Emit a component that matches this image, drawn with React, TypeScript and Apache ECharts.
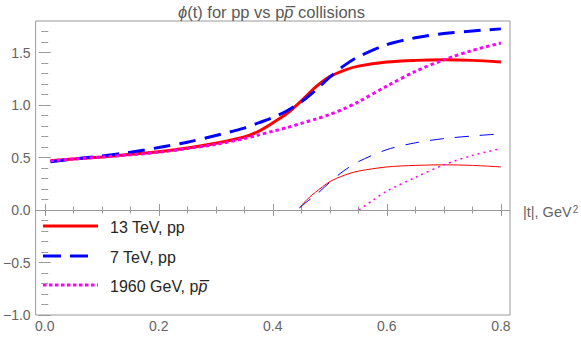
import React, { useEffect, useRef } from "react";
import * as echarts from "echarts";

// ---- data ----
const tMain = [0.01, 0.05, 0.1, 0.15, 0.2, 0.25, 0.3, 0.35, 0.375, 0.4, 0.425, 0.45, 0.475, 0.5, 0.525, 0.55, 0.6, 0.65, 0.7, 0.75, 0.8];
const red13 = [0.47, 0.485, 0.505, 0.53, 0.555, 0.59, 0.635, 0.695, 0.75, 0.83, 0.92, 1.04, 1.17, 1.27, 1.33, 1.37, 1.41, 1.425, 1.43, 1.425, 1.41];
const blue7 = [0.46, 0.485, 0.515, 0.55, 0.595, 0.645, 0.71, 0.78, 0.83, 0.88, 0.945, 1.03, 1.14, 1.265, 1.375, 1.46, 1.575, 1.64, 1.68, 1.705, 1.725];
const mag1960 = [0.47, 0.485, 0.505, 0.525, 0.55, 0.585, 0.625, 0.68, 0.715, 0.75, 0.785, 0.825, 0.865, 0.91, 0.965, 1.03, 1.18, 1.32, 1.43, 1.52, 1.59];

const tThin = [0.447, 0.46, 0.475, 0.5, 0.525, 0.55, 0.6, 0.65, 0.7, 0.75, 0.8];
const red13Thin = [0.02, 0.1, 0.17, 0.27, 0.33, 0.37, 0.41, 0.425, 0.43, 0.425, 0.41];
const blue7Thin = [0.02, 0.08, 0.14, 0.265, 0.375, 0.46, 0.575, 0.64, 0.68, 0.705, 0.725];
const tThinBar = [0.551, 0.575, 0.6, 0.65, 0.7, 0.75, 0.8];
const mag1960Thin = [0.0, 0.09, 0.18, 0.31, 0.43, 0.52, 0.585];

const xMajor = [0, 0.2, 0.4, 0.6, 0.8];
const xMinor = [0.05, 0.1, 0.15, 0.25, 0.3, 0.35, 0.45, 0.5, 0.55, 0.65, 0.7, 0.75];
const yMajor = [-1.0, -0.5, 0.0, 0.5, 1.0, 1.5];
const yMinor = [-0.9, -0.8, -0.7, -0.6, -0.4, -0.3, -0.2, -0.1, 0.1, 0.2, 0.3, 0.4, 0.6, 0.7, 0.8, 0.9, 1.1, 1.2, 1.3, 1.4, 1.6, 1.7];

const legendNames = ["13 TeV, pp", "7 TeV, pp", "1960 GeV, p{i|p\u0305}"];
const titleText = "{i|\u03d5}(t) for pp vs p{i|p\u0305} collisions";
const xAxisName = "|t|, GeV{sup|2}";

const FONT = "Liberation Sans";
const FRAME = "#9a9a9a";
const TEXT = "#646464";
const RED = "#ff0000";
const BLUE = "#0000ff";
const MAG = "#ff00ff";

const zip = (xs: number[], ys: number[]) => xs.map((x, i) => [x, ys[i]]);

const X_MIN = -0.016;
const X_MAX = 0.816;
const Y_MIN = -1.0;
const Y_MAX = 1.8;
const SMOOTH = 0.3;

const fmt = (v: number) => {
  const s = Math.abs(v).toFixed(1);
  return v < 0 ? "\u2212" + s : s;
};

function xAxisDef(position: "top" | "bottom", ticks: number[], len: number, labels: boolean) {
  return {
    type: "value",
    position,
    min: X_MIN,
    max: X_MAX,
    axisLine: { show: false },
    splitLine: { show: false },
    axisTick: { show: true, inside: true, length: len, customValues: ticks, lineStyle: { color: FRAME, width: 1 } },
    axisLabel: labels
      ? { show: true, customValues: xMajor, formatter: fmt, color: TEXT, fontFamily: FONT, fontSize: 14, margin: 4 }
      : { show: false },
  };
}

function yAxisDef(position: "left" | "right", ticks: number[], len: number, labels: boolean) {
  return {
    type: "value",
    position,
    min: Y_MIN,
    max: Y_MAX,
    axisLine: { show: false },
    splitLine: { show: false },
    axisTick: { show: true, inside: true, length: len, customValues: ticks, lineStyle: { color: FRAME, width: 1 } },
    axisLabel: labels
      ? { show: true, customValues: yMajor, formatter: fmt, color: TEXT, fontFamily: FONT, fontSize: 14, margin: 5 }
      : { show: false },
  };
}

export default function App() {
  const ref = useRef<HTMLDivElement>(null);
  useEffect(() => {
    if (!ref.current) return;
    const chart = echarts.init(ref.current, null, { renderer: "svg" });
    const legendY = [226, 256, 285];
    const legendStyles = [
      { stroke: RED, lineWidth: 3, lineDash: null as any, x2: 98 },
      { stroke: BLUE, lineWidth: 3, lineDash: [18, 9], x2: 88 },
      { stroke: MAG, lineWidth: 3, lineDash: [3.5, 2.5], x2: 98 },
    ];
    const graphics: any[] = [
      {
        type: "text",
        x: 271.5,
        y: 11.5,
        style: {
          text: titleText,
          fontFamily: FONT,
          fontSize: 16.5,
          fill: "#5a5a5a",
          align: "center",
          verticalAlign: "middle",
          rich: { i: { fontStyle: "italic", fontFamily: FONT, fontSize: 16.5, fill: "#5a5a5a" } },
        },
      },
      {
        type: "text",
        x: 523,
        y: 212,
        style: {
          text: xAxisName,
          fontFamily: FONT,
          fontSize: 14.5,
          fill: TEXT,
          align: "left",
          verticalAlign: "middle",
          rich: { sup: { fontSize: 10, fontFamily: FONT, fill: TEXT, verticalAlign: "top", padding: [0, 0, 0, 1] } },
        },
      },
    ];
    legendNames.forEach((name, i) => {
      const s = legendStyles[i];
      graphics.push({
        type: "line",
        shape: { x1: 43, y1: legendY[i], x2: s.x2, y2: legendY[i] },
        style: { stroke: s.stroke, lineWidth: s.lineWidth, lineDash: s.lineDash, lineCap: "butt" },
      });
      graphics.push({
        type: "text",
        x: 110,
        y: legendY[i] + 1,
        style: {
          text: name,
          fontFamily: FONT,
          fontSize: 16,
          fill: "#262626",
          align: "left",
          verticalAlign: "middle",
          rich: { i: { fontStyle: "italic", fontFamily: FONT, fontSize: 16, fill: "#262626" } },
        },
      });
    });

    const line = (name: string, xs: number[], ys: number[], lineStyle: any, extra: any = {}) => ({
      type: "line",
      name,
      data: zip(xs, ys),
      symbol: "none",
      smooth: SMOOTH,
      lineStyle,
      ...extra,
    });

    chart.setOption({
      animation: false,
      grid: {
        left: 33,
        top: 21,
        width: 477,
        height: 294,
        show: true,
        borderColor: FRAME,
        borderWidth: 1,
        backgroundColor: "transparent",
        containLabel: false,
      },
      xAxis: [
        xAxisDef("bottom", xMajor, 6, true),
        xAxisDef("bottom", xMinor, 3.5, false),
        xAxisDef("top", xMajor, 6, false),
        xAxisDef("top", xMinor, 3.5, false),
      ],
      yAxis: [
        yAxisDef("left", yMajor, 6, true),
        yAxisDef("left", yMinor, 3.5, false),
        yAxisDef("right", yMajor, 6, false),
        yAxisDef("right", yMinor, 3.5, false),
      ],
      graphic: graphics,
      series: [
        line("13 TeV thin", tThin, red13Thin, { color: RED, width: 1 }, {
          markLine: {
            silent: true,
            symbol: "none",
            label: { show: false },
            lineStyle: { color: FRAME, width: 1, type: "solid" },
            data: [{ yAxis: 0 }],
          },
        }),
        line("7 TeV thin", tThin, blue7Thin, { color: BLUE, width: 1, type: [14, 11], cap: "butt" }),
        line("1960 GeV thin", tThinBar, mag1960Thin, { color: MAG, width: 1.5, type: [2, 4], cap: "butt" }),
        line("13 TeV, pp", tMain, red13, { color: RED, width: 3 }),
        line("7 TeV, pp", tMain, blue7, { color: BLUE, width: 3, type: [17, 9], cap: "butt" }),
        line("1960 GeV, ppbar", tMain, mag1960, { color: MAG, width: 3, type: [3.5, 3], cap: "butt" }),
      ],
    });
    return () => chart.dispose();
  }, []);
  return (
    <div
      ref={ref}
      style={{ position: "fixed", left: 0, top: 0, width: 581, height: 340, background: "#ffffff" }}
    />
  );
}
